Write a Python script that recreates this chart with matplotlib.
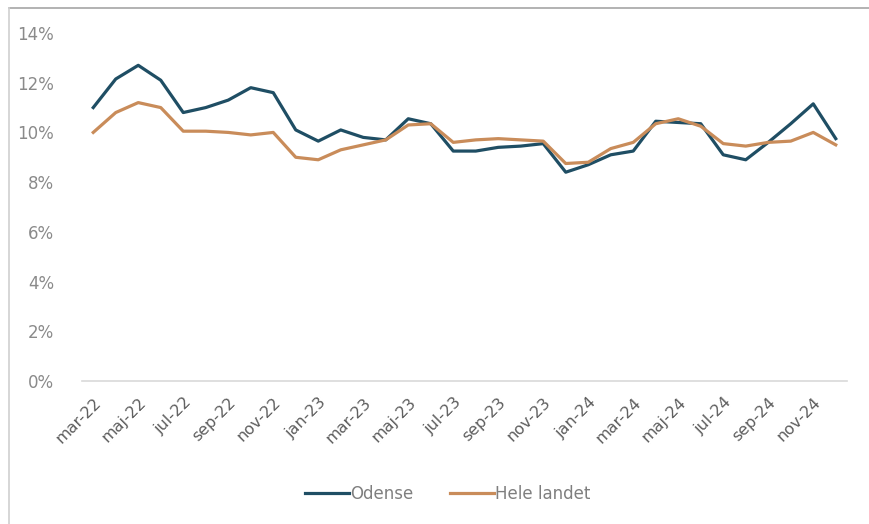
import numpy as np
import matplotlib.pyplot as plt
from matplotlib.lines import Line2D

# months mar-22 .. dec-24
months = ["mar-22", "apr-22", "maj-22", "jun-22", "jul-22", "aug-22", "sep-22", "okt-22",
          "nov-22", "dec-22", "jan-23", "feb-23", "mar-23", "apr-23", "maj-23", "jun-23",
          "jul-23", "aug-23", "sep-23", "okt-23", "nov-23", "dec-23", "jan-24", "feb-24",
          "mar-24", "apr-24", "maj-24", "jun-24", "jul-24", "aug-24", "sep-24", "okt-24",
          "nov-24", "dec-24"]

odense = [11.0, 12.15, 12.7, 12.1, 10.8, 11.0, 11.3, 11.8, 11.6, 10.1, 9.65, 10.1,
          9.8, 9.7, 10.55, 10.35, 9.25, 9.25, 9.4, 9.45, 9.55, 8.4, 8.7, 9.1,
          9.25, 10.45, 10.4, 10.35, 9.1, 8.9, 9.6, 10.35, 11.15, 9.75]

hele_landet = [10.0, 10.8, 11.2, 11.0, 10.05, 10.05, 10.0, 9.9, 10.0, 9.0, 8.9, 9.3,
               9.5, 9.7, 10.3, 10.35, 9.6, 9.7, 9.75, 9.7, 9.65, 8.75, 8.8, 9.35,
               9.6, 10.35, 10.55, 10.25, 9.55, 9.45, 9.6, 9.65, 10.0, 9.5]

yticks = [0, 2, 4, 6, 8, 10, 12, 14]

c_blue = '#1f4e64'
c_orange = '#c98c5a'

plt.rcParams['font.family'] = ['Liberation Sans Narrow', 'DejaVu Sans']

fig = plt.figure(figsize=(8.69, 5.24), dpi=100)
ax = fig.add_axes([82/869, 1-381/524, 765/869, (381-33)/524])

x = np.arange(len(months))
ax.plot(x, odense, color=c_blue, lw=2.3, solid_joinstyle='round')
ax.plot(x, hele_landet, color=c_orange, lw=2.3, solid_joinstyle='round')

ax.set_xlim(-0.5, len(months) - 0.5)
ax.set_ylim(0, 14)
ax.set_yticks(yticks)
ax.set_yticklabels([f"{v}%" for v in yticks], fontsize=12, color='#8a8a8a')
ax.tick_params(axis='y', length=0, pad=20)

ax.set_xticks(x[::2])
ax.set_xticklabels(months[::2], rotation=45, ha='right', rotation_mode='anchor',
                   fontsize=11.5, color='#5e5e5e')
ax.tick_params(axis='x', length=0, pad=10)

for s in ['top', 'right', 'left']:
    ax.spines[s].set_visible(False)
ax.spines['bottom'].set_color('#d9d9d9')
ax.spines['bottom'].set_linewidth(1.2)

handles = [Line2D([], [], color=c_blue, lw=2.3), Line2D([], [], color=c_orange, lw=2.3)]
leg = fig.legend(handles, ['Odense', 'Hele landet'], loc='center', bbox_to_anchor=(448/869, 1-494/524),
                 ncol=2, frameon=False, fontsize=12, handlelength=2.6, handletextpad=0.1,
                 columnspacing=2.2)
for t in leg.get_texts():
    t.set_color('#7f7f7f')

# chart frame (top and left edges visible)
fig.add_artist(Line2D([9/869, 1], [1-8/524, 1-8/524], color='#a6a6a6', lw=1.2))
fig.add_artist(Line2D([9/869, 9/869], [0, 1-8/524], color='#d0d0d0', lw=1.2))

fig.savefig('out.png', dpi=100)
